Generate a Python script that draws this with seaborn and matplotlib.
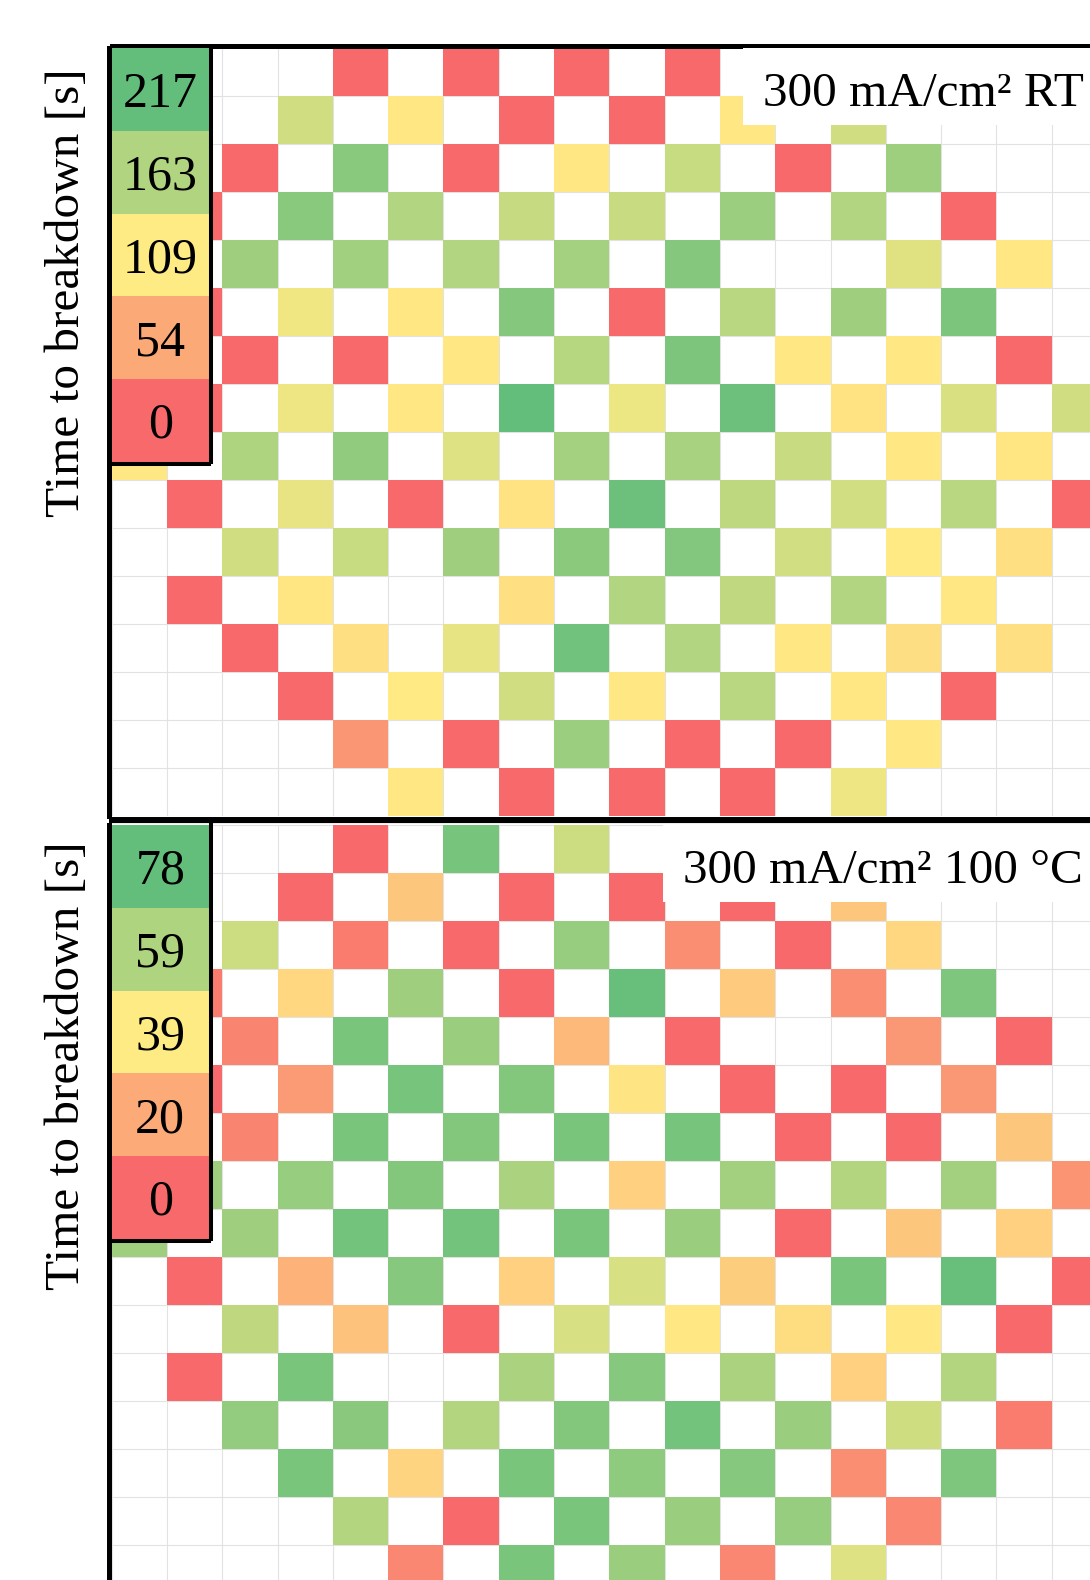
import numpy as np
import matplotlib
matplotlib.use("Agg")
import matplotlib.pyplot as plt
from matplotlib.colors import LinearSegmentedColormap
from matplotlib.patches import Rectangle
import seaborn as sns

_ = None  # no measurement in this cell

# Time to breakdown [s] per cell, 300 mA/cm2 at room temperature
rt_times = [
    [_, _, _, _, 0, _, 0, _, 0, _, 0, _, _, _, _, _, _, _],
    [_, _, _, 141, _, 106, _, 0, _, 0, _, 106, _, 141, _, _, _, _],
    [_, _, 0, _, 190, _, 0, _, 106, _, 147, _, 0, _, 177, _, _, _],
    [_, 0, _, 190, _, 162, _, 149, _, 146, _, 178, _, 162, _, 0, _, _],
    [_, _, 175, _, 173, _, 162, _, 172, _, 193, _, _, _, 130, _, 106, _],
    [_, 0, _, 119, _, 106, _, 193, _, 0, _, 157, _, 175, _, 200, _, _],
    [_, _, 0, _, 0, _, 106, _, 158, _, 199, _, 106, _, 106, _, 0, _],
    [_, 0, _, 121, _, 106, _, 217, _, 122, _, 211, _, 102, _, 135, _, 141],
    [106, _, 164, _, 185, _, 131, _, 172, _, 169, _, 146, _, 106, _, 105, _],
    [_, 0, _, 124, _, 0, _, 102, _, 211, _, 154, _, 140, _, 157, _, 0],
    [_, _, 141, _, 147, _, 175, _, 189, _, 195, _, 140, _, 108, _, 100, _],
    [_, 0, _, 105, _, _, _, 99, _, 162, _, 152, _, 162, _, 106, _, _],
    [_, _, 0, _, 100, _, 126, _, 207, _, 162, _, 106, _, 98, _, 100, _],
    [_, _, _, 0, _, 108, _, 141, _, 106, _, 157, _, 106, _, 0, _, _],
    [_, _, _, _, 38, _, 0, _, 178, _, 0, _, 0, _, 106, _, _, _],
    [_, _, _, _, _, 106, _, 0, _, 0, _, 0, _, 121, _, _, _, _],
]

# Time to breakdown [s] per cell, 300 mA/cm2 at 100 °C
hot_times = [
    [_, _, _, _, 0, _, 73, _, 52, _, 25, _, _, _, _, _, _, _],
    [_, _, _, 0, _, 28, _, 0, _, 0, _, 0, _, 28, _, _, _, _],
    [_, _, 52, _, 6, _, 0, _, 65, _, 11, _, 0, _, 33, _, _, _],
    [_, 6, _, 33, _, 63, _, 0, _, 77, _, 29, _, 11, _, 71, _, _],
    [_, _, 8, _, 72, _, 64, _, 24, _, 0, _, _, _, 14, _, 0, _],
    [_, 0, _, 15, _, 73, _, 70, _, 37, _, 0, _, 0, _, 14, _, _],
    [_, _, 8, _, 72, _, 70, _, 72, _, 73, _, 0, _, 0, _, 28, _],
    [_, 63, _, 65, _, 70, _, 60, _, 31, _, 62, _, 58, _, 62, _, 13],
    [63, _, 63, _, 74, _, 74, _, 72, _, 64, _, 0, _, 28, _, 31, _],
    [_, 0, _, 22, _, 69, _, 31, _, 49, _, 30, _, 72, _, 77, _, 0],
    [_, _, 55, _, 27, _, 0, _, 49, _, 38, _, 35, _, 38, _, 0, _],
    [_, 0, _, 72, _, _, _, 60, _, 69, _, 60, _, 31, _, 58, _, _],
    [_, _, 66, _, 68, _, 58, _, 70, _, 74, _, 64, _, 51, _, 6, _],
    [_, _, _, 72, _, 32, _, 72, _, 67, _, 69, _, 11, _, 71, _, _],
    [_, _, _, _, 58, _, 0, _, 72, _, 64, _, 65, _, 9, _, _, _],
    [_, _, _, _, _, 9, _, 72, _, 64, _, 9, _, 47, _, _, _, _],
]

rt_scale = [217, 163, 109, 54, 0]
hot_scale = [78, 59, 39, 20, 0]

rt_title = "300 mA/cm² RT"
hot_title = "300 mA/cm² 100 °C"
ylabel = "Time to breakdown [s]"

W, H = 1090, 1580
CELL_W, CELL_H = 55.3, 48


def box(x0, y0, x1, y1):
    """pixel box (from top-left) -> figure fraction [left, bottom, w, h]"""
    return [x0 / W, 1 - y1 / H, (x1 - x0) / W, (y1 - y0) / H]


# Excel style 3-colour scale red -> yellow -> green
cmap = LinearSegmentedColormap.from_list("excel", ["#F8696B", "#FFEB84", "#63BE7B"])

sns.set_style("white")
plt.rcParams["font.family"] = ["Liberation Serif", "DejaVu Serif"]
plt.rcParams["text.color"] = "black"

fig = plt.figure(figsize=(W / 100, H / 100), dpi=100)


def draw_panel(times, scale, title, top, title_x0, label_y):
    data = np.array(times, dtype=float)
    nrows, ncols = data.shape
    left = 111.7

    ax = fig.add_axes(box(left, top, left + ncols * CELL_W, top + nrows * CELL_H))
    sns.heatmap(data, ax=ax, cmap=cmap, vmin=min(scale), vmax=max(scale), cbar=False,
                linewidths=0, xticklabels=False, yticklabels=False)
    ax.hlines(np.arange(nrows + 1), 0, ncols, color="#e2e2e2", lw=0.8, zorder=0.5)
    ax.vlines(np.arange(ncols + 1), 0, nrows, color="#e2e2e2", lw=0.8, zorder=0.5)
    ax.tick_params(length=0)
    for side in ["left", "top", "bottom", "right"]:
        ax.spines[side].set_visible(False)
    for side in ["left", "top"]:
        ax.spines[side].set_visible(True)
        ax.spines[side].set_color("black")
        ax.spines[side].set_linewidth(3.6)
        ax.spines[side].set_position(("outward", 1.8))

    # colour scale key in the top-left corner
    lax = fig.add_axes(box(left, top, left + 97, top + 414))
    key = np.array(scale).reshape(-1, 1)
    sns.heatmap(key, ax=lax, cmap=cmap, vmin=min(scale), vmax=max(scale), cbar=False,
                xticklabels=False, yticklabels=False)
    for i, v in enumerate(scale):
        lax.text(0.5, i + 0.56, str(v), fontsize=36, color="black", ha="center", va="center")
    lax.tick_params(length=0)
    for side in ["right", "bottom"]:
        lax.spines[side].set_visible(True)
        lax.spines[side].set_color("black")
        lax.spines[side].set_linewidth(2.9)
        lax.spines[side].set_position(("outward", 1.5))

    # condition label in a white box at the top right
    fig.add_artist(Rectangle(((title_x0 - 20) / W, 1 - (top + 77) / H), (W - title_x0 + 40) / W, 77 / H,
                             transform=fig.transFigure, facecolor="white", edgecolor="none", zorder=2))
    fig.text(title_x0 / W, 1 - (top + 58) / H, title, fontsize=35.5, color="black",
             ha="left", va="baseline", zorder=3)

    fig.text(67 / W, 1 - label_y / H, ylabel, rotation=90, fontsize=35.5, color="black",
             ha="center", va="center")
    return ax


ax_rt = draw_panel(rt_times, rt_scale, rt_title, 48, 763, 293)
ax_rt.spines["bottom"].set_visible(True)
ax_rt.spines["bottom"].set_color("black")
ax_rt.spines["bottom"].set_linewidth(4.3)
ax_rt.spines["bottom"].set_position(("outward", 3.2))

ax_hot = draw_panel(hot_times, hot_scale, hot_title, 825, 683, 1066)
ax_hot.spines["top"].set_linewidth(3.0)
ax_hot.spines["top"].set_position(("outward", 3.0))

fig.savefig("out.png", dpi=100, facecolor="white")
